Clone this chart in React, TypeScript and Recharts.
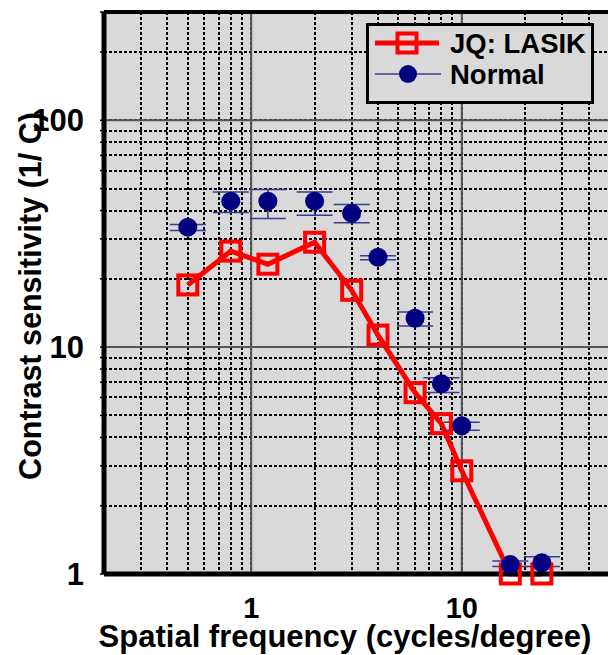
import React from "react";
import {
  ComposedChart,
  Line,
  XAxis,
  YAxis,
  CartesianGrid,
  ReferenceLine,
  ErrorBar,
  Legend,
} from "recharts";

// spatial frequency (cycles/degree)
const freqs = [0.5, 0.8, 1.2, 2, 3, 4, 6, 8, 10, 17, 24];
// JQ after LASIK
const lasik = [18.8, 26.5, 23.2, 29, 17.8, 11.3, 6.3, 4.6, 2.85, 1.0, 1.0];
// normal observers, mean and error bar bounds
const normal = [33.8, 44, 44, 44, 38.9, 24.9, 13.4, 6.9, 4.5, 1.1, 1.12];
const normalHi = [34.7, 48.3, 49.5, 48.3, 42.5, 25.3, 14.3, 7.33, 4.66, 1.14, 1.19];
const normalLo = [32.7, 39.2, 36.9, 38.1, 35.3, 24.3, 12.4, 6.31, 4.3, 1.08, 1.08];

const xTicks = [0.2, 0.3, 0.4, 0.5, 0.6, 0.7, 0.8, 0.9, 1, 2, 3, 4, 5, 6, 7, 8, 9, 10, 20, 30, 40, 50];
const yTicks = [1, 2, 3, 4, 5, 6, 7, 8, 9, 10, 20, 30, 40, 50, 60, 70, 80, 90, 100, 200, 300];
const xLabeled = [1, 10];
const yLabeled = [1, 10, 100];
const xMajor = [1, 10];
const yMajor = [10, 100];

const data = freqs.map((f, i) => ({
  freq: f,
  lasik: lasik[i],
  normal: normal[i],
  normalErr: [normal[i] - normalLo[i], normalHi[i] - normal[i]],
}));

const FONT = "'Liberation Sans', Arial, sans-serif";
const RED = "#ff0000";
const NAVY = "#000080";
const BG = "#d9d9d9";

const XTick = ({ x, y, payload }: any) =>
  xLabeled.includes(payload.value) ? (
    <text x={x} y={y} dy={44} textAnchor="middle" fontFamily={FONT} fontWeight="bold" fontSize={29} fill="#000">
      {payload.value}
    </text>
  ) : (
    <g />
  );

const YTick = ({ x, y, payload }: any) =>
  yLabeled.includes(payload.value) ? (
    <text x={x} y={y} dy={11} textAnchor="end" fontFamily={FONT} fontWeight="bold" fontSize={31} fill="#000">
      {payload.value}
    </text>
  ) : (
    <g />
  );

const SquareDot = (p: any) => (
  <rect
    key={`sq-${p.index}`}
    x={p.cx - 9.5}
    y={p.cy - 9.5}
    width={19}
    height={19}
    fill="none"
    stroke={RED}
    strokeWidth={4}
  />
);

const CircleDot = (p: any) => <circle key={`ci-${p.index}`} cx={p.cx} cy={p.cy} r={9.5} fill={NAVY} />;

const LegendBox = () => (
  <div style={{ border: "3px solid #000", background: BG, width: 222, height: 75 }}>
    <svg width={222} height={75} style={{ display: "block" }}>
      <line x1={6} x2={70} y1={17} y2={17} stroke={RED} strokeWidth={5} />
      <rect x={28.5} y={7.5} width={19} height={19} fill="none" stroke={RED} strokeWidth={4} />
      <text x={81} y={27} fontFamily={FONT} fontWeight="bold" fontSize={27.5} fill="#000">
        JQ: LASIK
      </text>
      <line x1={6} x2={72} y1={48} y2={48} stroke="#3a3a90" strokeWidth={1.5} />
      <circle cx={39} cy={48} r={9} fill={NAVY} />
      <text x={81} y={58} fontFamily={FONT} fontWeight="bold" fontSize={27.5} fill="#000">
        Normal
      </text>
    </svg>
  </div>
);

export default function App() {
  return (
    <div style={{ position: "absolute", left: 0, top: 0, width: 608, height: 655, overflow: "hidden", background: "#fff" }}>
      <ComposedChart width={610} height={655} data={data} margin={{ top: 12, right: 1, bottom: 0, left: 0 }}>
        <CartesianGrid
          fill={BG}
          stroke="#000"
          strokeWidth={2}
          strokeDasharray="3 2"
          shapeRendering="crispEdges"
          horizontal
          vertical
        />
        {xMajor.map((v) => (
          <ReferenceLine key={`vx-${v}`} x={v} stroke="#555" strokeWidth={2} />
        ))}
        {yMajor.map((v) => (
          <ReferenceLine key={`hy-${v}`} y={v} stroke="#555" strokeWidth={2} />
        ))}
        <ReferenceLine y={300} stroke="#000" strokeWidth={4} />
        <XAxis
          dataKey="freq"
          type="number"
          scale="log"
          domain={[0.2, 50]}
          ticks={xTicks}
          interval={0}
          height={81}
          tickSize={0}
          tickMargin={0}
          tickLine={false}
          axisLine={{ stroke: "#000", strokeWidth: 5 }}
          tick={<XTick />}
          label={{
            content: () => (
              <text x={345} y={647} textAnchor="middle" fontFamily={FONT} fontWeight="bold" fontSize={31} fill="#000">
                Spatial frequency (cycles/degree)
              </text>
            ),
          }}
        />
        <YAxis
          type="number"
          scale="log"
          domain={[1, 300]}
          ticks={yTicks}
          interval={0}
          width={104}
          tickSize={4}
          tickMargin={16}
          tickLine={{ stroke: "#000", strokeWidth: 1.5 }}
          axisLine={{ stroke: "#000", strokeWidth: 5 }}
          tick={<YTick />}
          label={{
            content: () => (
              <text
                x={0}
                y={0}
                transform="translate(41 296) rotate(-90)"
                textAnchor="middle"
                fontFamily={FONT}
                fontWeight="bold"
                fontSize={30.5}
                fill="#000"
              >
                Contrast sensitivity (1/ C)
              </text>
            ),
          }}
        />
        <ReferenceLine x={0.2} stroke="#fff" strokeWidth={1} strokeDasharray="2 2" />
        <ReferenceLine y={1} stroke="#fff" strokeWidth={1} strokeDasharray="2 2" />
        <Legend
          layout="vertical"
          align="center"
          verticalAlign="middle"
          wrapperStyle={{ left: 366, top: 23, width: "auto" }}
          content={() => <LegendBox />}
        />
        <Line
          dataKey="lasik"
          stroke={RED}
          strokeWidth={5}
          dot={SquareDot}
          activeDot={false}
          isAnimationActive={false}
        />
        <Line
          dataKey="normal"
          stroke="none"
          strokeWidth={0}
          dot={CircleDot}
          activeDot={false}
          isAnimationActive={false}
        >
          <ErrorBar dataKey="normalErr" direction="y" width={18} stroke="#3a3a90" strokeWidth={1.5} />
        </Line>
      </ComposedChart>
    </div>
  );
}
